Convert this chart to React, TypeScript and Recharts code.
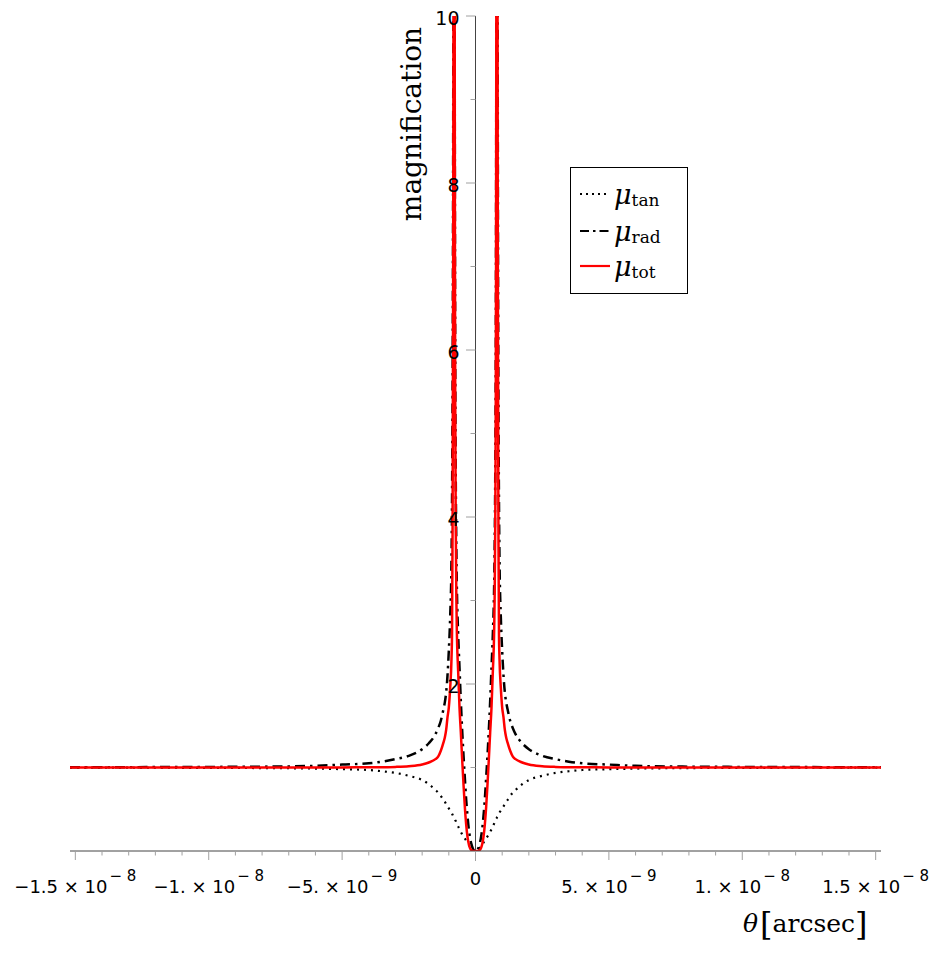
import { LineChart, Line, XAxis, YAxis, ReferenceLine, Legend } from 'recharts';

// theta in units of 1e-9 arcsec
const THETA = [
  -15.2, -12, -10, -8, -6, -5, -4, -3.5, -3, -2.5, -2, -1.75, -1.5, -1.4, -1.3, -1.2,
  -1.15, -1.1, -1.05, -1, -0.95, -0.9, -0.88, -0.86, -0.84, -0.82, -0.8, -0.79, -0.78,
  -0.77, -0.76, -0.74, -0.72, -0.7, -0.65, -0.6, -0.55, -0.5, -0.45, -0.4, -0.35, -0.3,
  -0.25, -0.2, -0.15, -0.1, -0.05,
  0,
  0.05, 0.1, 0.15, 0.2, 0.25, 0.3, 0.35, 0.4, 0.45, 0.5, 0.55, 0.6, 0.65, 0.7, 0.72,
  0.74, 0.76, 0.77, 0.78, 0.79, 0.8, 0.82, 0.84, 0.86, 0.88, 0.9, 0.95, 1, 1.05, 1.1,
  1.15, 1.2, 1.3, 1.4, 1.5, 1.75, 2, 2.5, 3, 3.5, 4, 5, 6, 8, 10, 12, 15.2,
];

const MU_TAN = [
  0.998, 0.997, 0.996, 0.993, 0.987, 0.98, 0.97, 0.955, 0.935, 0.9, 0.85, 0.8, 0.73, 0.7,
  0.66, 0.61, 0.59, 0.56, 0.535, 0.51, 0.485, 0.46, 0.445, 0.435, 0.42, 0.41, 0.4, 0.39,
  0.385, 0.38, 0.37, 0.36, 0.345, 0.33, 0.295, 0.26, 0.23, 0.2, 0.175, 0.15, 0.125, 0.1,
  0.075, 0.05, 0.035, 0.02, 0.005,
  0,
  0.005, 0.02, 0.035, 0.05, 0.075, 0.1, 0.125, 0.15, 0.175, 0.2, 0.23, 0.26, 0.295, 0.33,
  0.345, 0.36, 0.37, 0.38, 0.385, 0.39, 0.4, 0.41, 0.42, 0.435, 0.445, 0.46, 0.485, 0.51,
  0.535, 0.56, 0.59, 0.61, 0.66, 0.7, 0.73, 0.8, 0.85, 0.9, 0.935, 0.955, 0.97, 0.98,
  0.987, 0.993, 0.996, 0.997, 0.998,
];

const MU_RAD = [
  1.003, 1.005, 1.007, 1.01, 1.02, 1.035, 1.05, 1.07, 1.1, 1.14, 1.22, 1.29, 1.4, 1.47,
  1.56, 1.7, 1.78, 1.9, 2.1, 2.4, 2.8, 3.5, 4.2, 5.5, 8, 14, 40, 16, 10, 7.5, 6, 4.5, 3.7,
  3.2, 2.6, 2.2, 1.8, 1.45, 1.15, 0.88, 0.62, 0.42, 0.26, 0.15, 0.08, 0.03, 0.005,
  0,
  0.005, 0.03, 0.08, 0.15, 0.26, 0.42, 0.62, 0.88, 1.15, 1.45, 1.8, 2.2, 2.6, 3.2, 3.7,
  4.5, 6, 7.5, 10, 16, 40, 14, 8, 5.5, 4.2, 3.5, 2.8, 2.4, 2.1, 1.9, 1.78, 1.7, 1.56,
  1.47, 1.4, 1.29, 1.22, 1.14, 1.1, 1.07, 1.05, 1.035, 1.02, 1.01, 1.007, 1.005, 1.003,
];

const MU_TOT = [
  1, 1, 1, 1, 1, 1.001, 1.003, 1.004, 1.007, 1.015, 1.035, 1.06, 1.1, 1.13, 1.2, 1.3,
  1.36, 1.45, 1.6, 1.72, 1.95, 2.3, 2.6, 3.8, 6.5, 12, 40, 16, 10, 7, 5.4, 3.9, 3.1, 2.65,
  2.15, 1.72, 1.42, 1.1, 0.8, 0.53, 0.32, 0.17, 0.08, 0.03, 0.01, 0, 0,
  0,
  0, 0, 0.01, 0.03, 0.08, 0.17, 0.32, 0.53, 0.8, 1.1, 1.42, 1.72, 2.15, 2.65, 3.1, 3.9,
  5.4, 7, 10, 16, 40, 12, 6.5, 3.8, 2.6, 2.3, 1.95, 1.72, 1.6, 1.45, 1.36, 1.3, 1.2, 1.13,
  1.1, 1.06, 1.035, 1.015, 1.007, 1.004, 1.003, 1.001, 1, 1, 1, 1, 1,
];

const X_TICKS = [
  -15, -14, -13, -12, -11, -10, -9, -8, -7, -6, -5, -4, -3, -2, -1, 0,
  1, 2, 3, 4, 5, 6, 7, 8, 9, 10, 11, 12, 13, 14, 15,
];
const X_LABEL_TICKS = [-15, -10, -5, 5, 10, 15];
const X_LABEL_MANTISSA = ['−1.5', '−1.', '−5.', '5.', '1.', '1.5'];
const X_LABEL_EXP = ['− 8', '− 8', '− 9', '− 9', '− 8', '− 8'];

const Y_TICKS = [1, 2, 3, 4, 5, 6, 7, 8, 9, 10];

const data = THETA.map((t, i) => ({ theta: t, tan: MU_TAN[i], rad: MU_RAD[i], tot: MU_TOT[i] }));

const W = 945;
const H = 955;
const LEFT = 69;
const Y_AXIS_W = 1;
const RIGHT = 64;
const TOP = 16;
const X_AXIS_H = 104;
const PLOT_BOTTOM = H - X_AXIS_H;
const PLOT_LEFT = LEFT + Y_AXIS_W;
const ZERO_X = PLOT_LEFT + (W - PLOT_LEFT - RIGHT) / 2;

const sans = 'DejaVu Sans, sans-serif';
const serif = 'DejaVu Serif, serif';

function XTick({ x, payload }: any) {
  const v = payload.value;
  const major = v % 5 === 0;
  const i = X_LABEL_TICKS.indexOf(v);
  return (
    <g>
      <line x1={x} x2={x} y1={PLOT_BOTTOM} y2={PLOT_BOTTOM + (v === 0 ? 10 : major ? 9 : 4.5)} stroke="#a0a0a0" />
      {v === 0 && (
        <text x={x} y={PLOT_BOTTOM + 34} textAnchor="middle" fontFamily={sans} fontSize={18} fill="#000">0</text>
      )}
      {i >= 0 && (
        <text x={x} y={PLOT_BOTTOM + 42} textAnchor="middle" fontFamily={sans} fontSize={18} fill="#000">
          {X_LABEL_MANTISSA[i]} × 10
          <tspan fontSize={15} dy={-12} dx={2}>{X_LABEL_EXP[i]}</tspan>
        </text>
      )}
    </g>
  );
}

function YTick({ y, payload }: any) {
  const v = payload.value;
  const major = v % 2 === 0;
  return (
    <g>
      <line x1={ZERO_X - (major ? 9.5 : 5)} x2={ZERO_X} y1={y} y2={y} stroke="#a0a0a0" />
      {major && (
        <text x={ZERO_X - 16} y={y + 9} textAnchor="end" fontFamily={sans} fontSize={19} fill="#000">{v}</text>
      )}
    </g>
  );
}

function YTitle() {
  return (
    <text x={421} y={124} transform="rotate(-90 421 124)" textAnchor="middle" fontFamily={serif} fontSize={28} fill="#000">
      magnification
    </text>
  );
}

function XTitle() {
  return (
    <text x={743} y={932} fontFamily={serif} fontSize={25} fill="#000">
      <tspan fontStyle="italic">θ</tspan>
      <tspan fontSize={32} dx={2} dy={3}>[</tspan>
      <tspan dy={-3}>arcsec</tspan>
      <tspan fontSize={32} dy={3}>]</tspan>
    </text>
  );
}

function LegendBox() {
  const rows = [
    { sub: 'tan', color: '#000', dash: '2 4', top: 26 },
    { sub: 'rad', color: '#000', dash: '9 4 2.5 4', top: 63 },
    { sub: 'tot', color: '#ff0000', dash: undefined, top: 98 },
  ];
  return (
    <div style={{ position: 'relative', width: 118, height: 127, border: '1.3px solid #000', background: '#fff', boxSizing: 'border-box' }}>
      {rows.map((r) => (
        <div key={r.sub} style={{ position: 'absolute', left: 9, top: r.top - 16, height: 32, display: 'flex', alignItems: 'center', whiteSpace: 'nowrap' }}>
          <svg width={30} height={6} style={{ marginRight: 4 }}>
            <line x1={0} x2={30} y1={3} y2={3} stroke={r.color} strokeWidth={2.2} strokeDasharray={r.dash} />
          </svg>
          <span style={{ fontFamily: serif, fontStyle: 'italic', fontSize: 27, color: '#000' }}>μ</span>
          <span style={{ fontFamily: serif, fontSize: 17, color: '#000', position: 'relative', top: 6 }}>{r.sub}</span>
        </div>
      ))}
    </div>
  );
}

export default function App() {
  return (
    <div style={{ position: 'absolute', left: 0, top: 0, width: W, height: H, background: '#fff' }}>
      <LineChart width={W} height={H} data={data} margin={{ top: TOP, right: RIGHT, bottom: 0, left: LEFT }}>
        <XAxis
          dataKey="theta"
          type="number"
          domain={[-15.2, 15.2]}
          allowDataOverflow
          ticks={X_TICKS}
          interval={0}
          height={X_AXIS_H}
          axisLine={{ stroke: '#444', strokeWidth: 1 }}
          tickLine={false}
          tick={<XTick />}
          label={<XTitle />}
        />
        <YAxis
          type="number"
          domain={[0, 10]}
          allowDataOverflow
          ticks={Y_TICKS}
          interval={0}
          width={Y_AXIS_W}
          axisLine={false}
          tickLine={false}
          tick={<YTick />}
          label={<YTitle />}
        />
        <ReferenceLine x={0} stroke="#444" strokeWidth={1} />
        <Line dataKey="tan" type="monotone" stroke="#000" strokeWidth={2.2} strokeDasharray="2 5" dot={false} activeDot={false} isAnimationActive={false} />
        <Line dataKey="rad" type="monotone" stroke="#000" strokeWidth={2.5} strokeDasharray="10 5 2.5 5" dot={false} activeDot={false} isAnimationActive={false} />
        <Line dataKey="tot" type="monotone" stroke="#ff0000" strokeWidth={2.5} dot={false} activeDot={false} isAnimationActive={false} />
        <Legend
          layout="vertical"
          align="center"
          verticalAlign="middle"
          wrapperStyle={{ left: 570, top: 167, width: 118 }}
          content={() => <LegendBox />}
        />
      </LineChart>
    </div>
  );
}
